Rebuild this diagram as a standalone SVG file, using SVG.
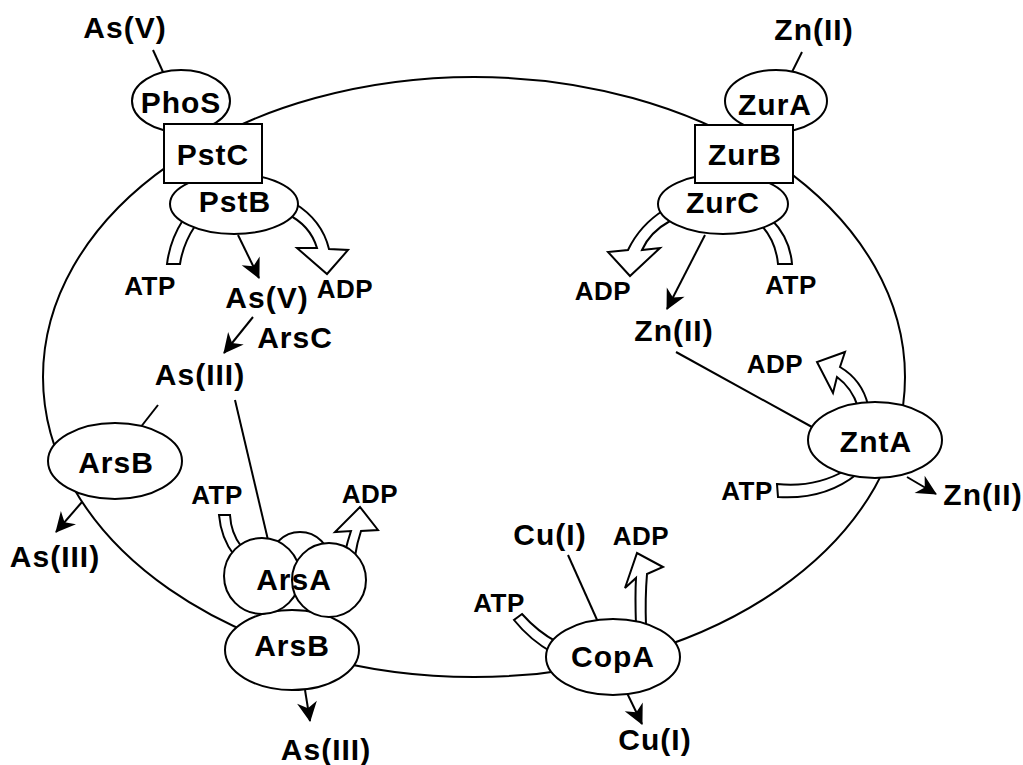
<svg xmlns="http://www.w3.org/2000/svg" width="1023" height="765" viewBox="0 0 1023 765">
<defs>
<style>
.sh{fill:#fff;stroke:#000;stroke-width:2}
.ln{fill:none;stroke:#000;stroke-width:2}
.ar{fill:none;stroke:#000;stroke-width:2;marker-end:url(#ah)}
.band{fill:#fff;stroke:#000;stroke-width:2;stroke-linejoin:miter}
.t{font-family:"Liberation Sans",Arial,Helvetica,sans-serif;font-weight:bold;font-size:30px;letter-spacing:1px;text-anchor:middle;fill:#000}
.s{font-family:"Liberation Sans",Arial,Helvetica,sans-serif;font-weight:bold;font-size:26px;letter-spacing:0.5px;text-anchor:middle;fill:#000}
</style>
<marker id="ah" viewBox="-22 -12 24 24" refX="0" refY="0" markerWidth="24" markerHeight="24" markerUnits="userSpaceOnUse" orient="auto">
<path d="M1,0 L-19,-10 L-13,0 L-19,10 Z" fill="#000"/>
</marker>
</defs>
<rect width="1023" height="765" fill="#fff"/>
<ellipse id="cell" cx="474" cy="377" rx="431" ry="300" class="ln"/>
<g id="connectors">
<line x1="153" y1="50" x2="163" y2="72" class="ln"/>
<line x1="802" y1="52" x2="792" y2="72" class="ln"/>
<line x1="158" y1="405" x2="140" y2="428" class="ln"/>
<line x1="235" y1="400" x2="268" y2="540" class="ln"/>
<line x1="568" y1="555" x2="598" y2="622" class="ln"/>
<line x1="676" y1="352" x2="812" y2="427" class="ln"/>
<line x1="238" y1="235" x2="259" y2="278" class="ar"/>
<line x1="253" y1="317" x2="224" y2="353" class="ar"/>
<line x1="82" y1="502" x2="56" y2="532" class="ar"/>
<line x1="305" y1="690" x2="310" y2="721" class="ar"/>
<line x1="627" y1="693" x2="642" y2="724" class="ar"/>
<line x1="907" y1="477" x2="936" y2="494" class="ar"/>
<line x1="705" y1="235" x2="667" y2="309" class="ar"/>
<path class="band" d="M183,220 Q170,240 167,264 L180,264 Q183,244 195,226 Z"/>
<path class="band" d="M287,214 Q310,225 317,248 L297,248 L327,274 L348,250 L329,249 Q322,220 294,203 Z"/>
<path class="band" d="M664,210 Q640,225 628,250 L608,252 L630,276 L660,248 L642,250 Q650,232 670,221 Z"/>
<path class="band" d="M762,226 Q776,242 778,264 L792,264 Q790,238 771,219 Z"/>
<path class="band" d="M219,515 L230,515 Q231,533 241,546 L234,555 Q221,538 219,515 Z"/>
<path class="band" d="M345,552 Q348,540 351,531 L335,532 L360,507 L378,530 L361,531 Q357,543 355,556 Z"/>
<path class="band" d="M514,620 Q530,640 553,653 L557,642 Q538,632 522,614 Z"/>
<path class="band" d="M636,626 Q635,595 636,578 L625,588 L637,553 L663,567 L647,574 Q645,598 646,626 Z"/>
<path class="band" d="M858,407 Q852,388 837,377 L833,393 L817,362 L845,352 L840,367 Q862,380 868,405 Z"/>
<path class="band" d="M777,484 Q815,488 846,470 L857,474 Q825,500 778,497 Z"/>
</g>
<g id="PhoS"><ellipse cx="181" cy="101" rx="49" ry="31" class="sh"/><text x="181" y="113" class="t">PhoS</text></g>
<g id="PstB"><ellipse cx="234" cy="204" rx="64" ry="30" class="sh"/><text x="235" y="212" class="t">PstB</text></g>
<g id="PstC"><rect x="164" y="124" width="98" height="59" class="sh"/><text x="213" y="165" class="t">PstC</text></g>
<g id="ZurA"><ellipse cx="776" cy="101" rx="51" ry="31" class="sh"/><text x="775" y="115" class="t">ZurA</text></g>
<g id="ZurC"><ellipse cx="723" cy="204" rx="65" ry="30" class="sh"/><text x="723" y="213" class="t">ZurC</text></g>
<g id="ZurB"><rect x="695" y="125" width="98" height="58" class="sh"/><text x="745" y="165" class="t">ZurB</text></g>
<g id="ArsB-left"><ellipse cx="115" cy="461" rx="67" ry="38" class="sh"/><text x="116" y="473" class="t">ArsB</text></g>
<g id="ArsB-bottom"><ellipse cx="292" cy="650" rx="67" ry="40" class="sh"/><text x="292" y="656" class="t">ArsB</text></g>
<g id="ArsA"><circle cx="300" cy="562" r="30" class="sh"/><circle cx="262" cy="576" r="38" class="sh"/><circle cx="329" cy="580" r="37" class="sh"/><text x="294" y="590" class="t">ArsA</text></g>
<g id="CopA"><ellipse cx="613" cy="657" rx="67" ry="38" class="sh"/><text x="613" y="667" class="t">CopA</text></g>
<g id="ZntA"><ellipse cx="875" cy="440" rx="67" ry="38" class="sh"/><text x="876" y="452" class="t">ZntA</text></g>
<g id="labels">
<text x="125" y="38" class="t">As(V)</text>
<text x="814" y="40" class="t">Zn(II)</text>
<text x="150" y="295" class="s">ATP</text>
<text x="267" y="308" class="t">As(V)</text>
<text x="345" y="298" class="s">ADP</text>
<text x="295" y="348" class="t">ArsC</text>
<text x="200" y="385" class="t">As(III)</text>
<text x="55" y="567" class="t">As(III)</text>
<text x="217" y="504" class="s">ATP</text>
<text x="370" y="503" class="s">ADP</text>
<text x="326" y="760" class="t">As(III)</text>
<text x="499" y="612" class="s">ATP</text>
<text x="550" y="545" class="t">Cu(I)</text>
<text x="641" y="545" class="s">ADP</text>
<text x="655" y="750" class="t">Cu(I)</text>
<text x="775" y="373" class="s">ADP</text>
<text x="747" y="500" class="s">ATP</text>
<text x="983" y="505" class="t">Zn(II)</text>
<text x="674" y="341" class="t">Zn(II)</text>
<text x="603" y="300" class="s">ADP</text>
<text x="791" y="294" class="s">ATP</text>
</g>
</svg>
